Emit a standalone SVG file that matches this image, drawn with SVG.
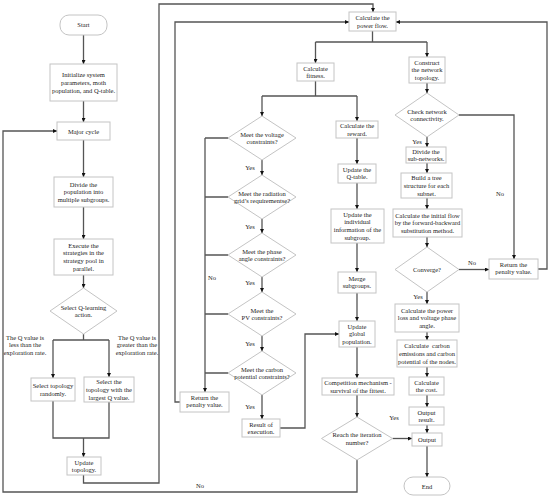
<svg xmlns="http://www.w3.org/2000/svg" width="550" height="498" viewBox="0 0 550 498">
<defs>
<marker id="ah" viewBox="0 0 6 6" refX="6" refY="3" markerWidth="4" markerHeight="4" markerUnits="userSpaceOnUse" orient="auto">
<path d="M0,0 L6,3 L0,6 z" fill="#111"/>
</marker>
<style>
.b{fill:#fff;stroke:#c4c4c4;stroke-width:1}
.c{fill:none;stroke:#555;stroke-width:1.3}
.a{marker-end:url(#ah)}
text{font-family:"Liberation Serif","Times New Roman",serif;font-size:6.5px;fill:#222;text-anchor:middle}
</style>
</defs>
<rect width="550" height="498" fill="#fff"/>
<g id="connectors">
<path class="c a" d="M83.5,35 V64"/>
<path class="c a" d="M83.5,101 V122"/>
<path class="c a" d="M83.5,140 V177"/>
<path class="c a" d="M83.5,207 V239"/>
<path class="c a" d="M83.5,275 V288"/>
<path class="c" d="M83.5,334 V340 M53,340 H109"/>
<path class="c a" d="M53,340 V378"/>
<path class="c a" d="M109,340 V377"/>
<path class="c" d="M53,401 V438 H109 V402"/>
<path class="c a" d="M83.5,438 V457"/>
<path class="c a" d="M83.5,475 V483 H159 V4 H373 V12"/>
<path class="c a" d="M357,460 V492 H3 V131 H57"/>
<path class="c" d="M372.5,31 V42 M315.5,42 H427"/>
<path class="c a" d="M315.5,42 V63"/>
<path class="c a" d="M427,42 V57"/>
<path class="c" d="M315.5,81 V96 M262,96 H357"/>
<path class="c a" d="M262,96 V116"/>
<path class="c a" d="M357,96 V121"/>
<path class="c a" d="M357,138 V164"/>
<path class="c a" d="M357,183 V209"/>
<path class="c a" d="M357,243 V272"/>
<path class="c a" d="M357,293 V321"/>
<path class="c a" d="M357,347 V378"/>
<path class="c a" d="M357,395 V417"/>
<path class="c a" d="M392.5,438.5 H412"/>
<path class="c a" d="M262,160 V175"/>
<path class="c a" d="M262,219 V233"/>
<path class="c a" d="M262,277 V292"/>
<path class="c a" d="M262,336 V351"/>
<path class="c a" d="M262,395 V419"/>
<path class="c" d="M228,138 H205 M228,197 H205 M228,255 H205 M228,314 H205 M228,373 H205"/>
<path class="c a" d="M205,138 V392"/>
<path class="c a" d="M180,402 H175 V22 H349"/>
<path class="c a" d="M280,428 H305 V334 H339"/>
<path class="c a" d="M427,83 V93"/>
<path class="c a" d="M459,115 H514 V259"/>
<path class="c a" d="M427,137 V147"/>
<path class="c a" d="M427,163 V173"/>
<path class="c a" d="M427,198 V209"/>
<path class="c a" d="M427,237 V247"/>
<path class="c a" d="M459,269.5 H489"/>
<path class="c a" d="M538,269 H547 V22 H396"/>
<path class="c a" d="M427,292 V304"/>
<path class="c a" d="M427,332 V340"/>
<path class="c a" d="M427,367 V377"/>
<path class="c a" d="M427,395 V407"/>
<path class="c a" d="M427,425 V433"/>
<path class="c a" d="M427,446 V477"/>
</g>
<g id="labels">
<text x="25" y="339.5">The Q value is</text><text x="25" y="347.3">less than the</text><text x="25" y="355.1">exploration rate.</text>
<text x="137" y="339.5">The Q value is</text><text x="137" y="347.3">greater than the</text><text x="137" y="355.1">exploration rate.</text>
<text x="200" y="488">No</text>
<text x="250" y="169.5">Yes</text>
<text x="250" y="229">Yes</text>
<text x="250" y="285">Yes</text>
<text x="250" y="346">Yes</text>
<text x="250" y="409">Yes</text>
<text x="212" y="280">No</text>
<text x="500" y="196">No</text>
<text x="417" y="144">Yes</text>
<text x="472" y="265">No</text>
<text x="418" y="299">Yes</text>
<text x="394" y="420">Yes</text>
</g>
<g id="start"><rect class="b" x="60" y="15" width="47" height="20" rx="9"/><text x="83.5" y="27">Start</text></g>
<g id="init"><rect class="b" x="50" y="64" width="67" height="37"/><text x="83.5" y="77">Initialize system</text><text x="83.5" y="84.8">parameters, moth</text><text x="83.5" y="92.6">population, and Q-table.</text></g>
<g id="major"><rect class="b" x="57" y="122" width="53" height="18"/><text x="83.5" y="133.5">Major cycle</text></g>
<g id="divide"><rect class="b" x="54" y="177" width="59" height="30"/><text x="83.5" y="186.5">Divide the</text><text x="83.5" y="194.3">population into</text><text x="83.5" y="202.1">multiple subgroups.</text></g>
<g id="execute"><rect class="b" x="54" y="239" width="59" height="36"/><text x="83.5" y="247.6">Execute the</text><text x="83.5" y="255.4">strategies in the</text><text x="83.5" y="263.2">strategy pool in</text><text x="83.5" y="271">parallel.</text></g>
<g id="qaction"><polygon class="b" points="83.5,288 117,311 83.5,334 50,311"/><text x="83.5" y="309.5">Select Q-learning</text><text x="83.5" y="317.3">action.</text></g>
<g id="random"><rect class="b" x="31" y="378" width="44" height="23"/><text x="53" y="388">Select topology</text><text x="53" y="395.8">randomly.</text></g>
<g id="largest"><rect class="b" x="84" y="377" width="50" height="25"/><text x="109" y="384">Select the</text><text x="109" y="391.8">topology with the</text><text x="109" y="399.6">largest Q value.</text></g>
<g id="updtopo"><rect class="b" x="67" y="457" width="34" height="18"/><text x="84" y="464.5">Update</text><text x="84" y="472.3">topology.</text></g>
<g id="powerflow"><rect class="b" x="349" y="12" width="47" height="19"/><text x="372.5" y="20">Calculate the</text><text x="372.5" y="27.8">power flow.</text></g>
<g id="fitness"><rect class="b" x="297" y="63" width="37" height="18"/><text x="315.5" y="70.5">Calculate</text><text x="315.5" y="78.3">fitness.</text></g>
<g id="reward"><rect class="b" x="336" y="121" width="42" height="17"/><text x="357" y="128">Calculate the</text><text x="357" y="135.8">reward.</text></g>
<g id="qtable"><rect class="b" x="338" y="164" width="38" height="19"/><text x="357" y="171.5">Update the</text><text x="357" y="179.3">Q-table.</text></g>
<g id="indiv"><rect class="b" x="331" y="209" width="53" height="34"/><text x="357.5" y="216.6">Update the</text><text x="357.5" y="224.4">individual</text><text x="357.5" y="232.2">information of the</text><text x="357.5" y="240">subgroup.</text></g>
<g id="merge"><rect class="b" x="338" y="272" width="38" height="21"/><text x="357" y="280.5">Merge</text><text x="357" y="288.3">subgroups.</text></g>
<g id="global"><rect class="b" x="339" y="321" width="36" height="26"/><text x="357" y="328.6">Update</text><text x="357" y="336.4">global</text><text x="357" y="344.2">population.</text></g>
<g id="compet"><rect class="b" x="322" y="378" width="72" height="17"/><text x="358" y="385">Competition mechanism -</text><text x="358" y="392.8">survival of the fittest.</text></g>
<g id="iter"><polygon class="b" points="357,417 392.5,438.5 357,460 321.5,438.5"/><text x="357" y="437">Reach the iteration</text><text x="357" y="444.8">number?</text></g>
<g id="voltage"><polygon class="b" points="262,116 296,138 262,160 228,138"/><text x="262" y="136.5">Meet the voltage</text><text x="262" y="144.3">constraints?</text></g>
<g id="radiation"><polygon class="b" points="262,175 296,197 262,219 228,197"/><text x="262" y="195.5">Meet the radiation</text><text x="262" y="203.3">grid’s requirementse?</text></g>
<g id="phase"><polygon class="b" points="262,233 296,255 262,277 228,255"/><text x="262" y="253.5">Meet the phase</text><text x="262" y="261.3">angle constraints?</text></g>
<g id="pv"><polygon class="b" points="262,292 296,314 262,336 228,314"/><text x="262" y="312.5">Meet the</text><text x="262" y="320.3">PV constraints?</text></g>
<g id="carbonc"><polygon class="b" points="262,351 296,373 262,395 228,373"/><text x="262" y="371.5">Meet the carbon</text><text x="262" y="379.3">potential constraints?</text></g>
<g id="result"><rect class="b" x="242" y="419" width="38" height="18"/><text x="261" y="426.5">Result of</text><text x="261" y="434.3">execution.</text></g>
<g id="penalty1"><rect class="b" x="180" y="392" width="49" height="20"/><text x="204.5" y="399.5">Return the</text><text x="204.5" y="407.3">penalty value.</text></g>
<g id="construct"><rect class="b" x="409" y="57" width="36" height="26"/><text x="427" y="64.6">Construct</text><text x="427" y="72.4">the network</text><text x="427" y="80.2">topology.</text></g>
<g id="check"><polygon class="b" points="427,93 459,115 427,137 395,115"/><text x="427" y="113.5">Check network</text><text x="427" y="121.3">connectivity.</text></g>
<g id="subnet"><rect class="b" x="406" y="147" width="40" height="16"/><text x="426" y="153.5">Divide the</text><text x="426" y="161">sub-networks.</text></g>
<g id="tree"><rect class="b" x="401" y="173" width="51" height="25"/><text x="426.5" y="180">Build a tree</text><text x="426.5" y="187.8">structure for each</text><text x="426.5" y="195.6">subnet.</text></g>
<g id="initflow"><rect class="b" x="393" y="209" width="69" height="28"/><text x="427.5" y="217.6">Calculate the initial flow</text><text x="427.5" y="225.4">by the forward-backward</text><text x="427.5" y="233.2">substitution method.</text></g>
<g id="converge"><polygon class="b" points="427,247 459,269.5 427,292 395,269.5"/><text x="427" y="271.8">Converge?</text></g>
<g id="penalty2"><rect class="b" x="489" y="259" width="49" height="20"/><text x="513.5" y="266.5">Return the</text><text x="513.5" y="274.3">penalty value.</text></g>
<g id="loss"><rect class="b" x="395" y="304" width="64" height="28"/><text x="427" y="312.6">Calculate the power</text><text x="427" y="320.4">loss and voltage phase</text><text x="427" y="328.2">angle.</text></g>
<g id="carbon"><rect class="b" x="397" y="340" width="60" height="27"/><text x="427" y="348" xml:space="preserve">Calculate  carbon</text><text x="427" y="355.8">emissions and carbon</text><text x="427" y="363.6">potential of the nodes.</text></g>
<g id="cost"><rect class="b" x="409" y="377" width="35" height="18"/><text x="426.5" y="384.5">Calculate</text><text x="426.5" y="392.3">the cost.</text></g>
<g id="outres"><rect class="b" x="409" y="407" width="35" height="18"/><text x="426.5" y="414.5">Output</text><text x="426.5" y="422.3">result.</text></g>
<g id="output"><rect class="b" x="412" y="433" width="30" height="13"/><text x="427" y="441.8">Output</text></g>
<g id="end"><rect class="b" x="404" y="477" width="46" height="18" rx="9"/><text x="427" y="488.5">End</text></g>
</svg>
